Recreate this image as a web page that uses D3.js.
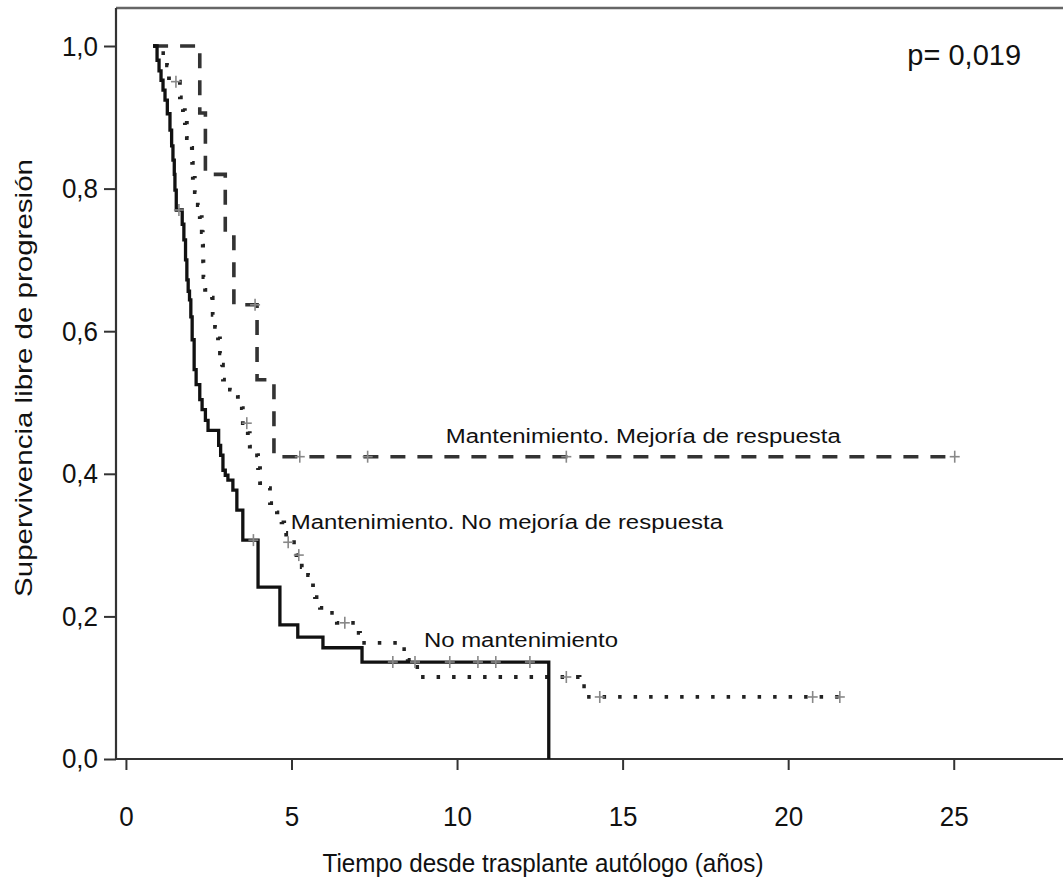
<!DOCTYPE html>
<html>
<head>
<meta charset="utf-8">
<script src="https://cdn.jsdelivr.net/npm/d3@7"></script>
<style>
  body { margin: 0; background: #fff; }
  text { font-family: "Liberation Sans", Arial, sans-serif; fill: #111; }
</style>
</head>
<body>
<svg id="chart" width="1063" height="884"></svg>
<script>
// Kaplan-Meier steps: drop times (years) and survival after each drop
var startTime = 0.82;

var noMantT = [0.94, 1.0, 1.06, 1.12, 1.18, 1.25, 1.33, 1.38, 1.42, 1.46, 1.48, 1.52, 1.7, 1.75, 1.8, 1.84, 1.88, 1.92, 1.96, 2.0, 2.06, 2.12, 2.23, 2.3, 2.4, 2.48, 2.8, 2.86, 2.93, 3.0, 3.08, 3.23, 3.35, 3.53, 3.99, 4.65, 5.19, 5.95, 7.13, 12.77];
var noMantS = [0.98, 0.965, 0.952, 0.938, 0.924, 0.905, 0.882, 0.86, 0.84, 0.82, 0.798, 0.77, 0.75, 0.728, 0.70, 0.672, 0.656, 0.644, 0.62, 0.588, 0.546, 0.525, 0.504, 0.49, 0.475, 0.461, 0.44, 0.426, 0.405, 0.398, 0.391, 0.377, 0.349, 0.307, 0.241, 0.188, 0.171, 0.156, 0.136, 0];
var noMantEnd = 12.77;
var noMantCensT = [1.6, 3.85, 8.06, 8.73, 9.78, 10.63, 11.17, 12.2];

var noMejT = [1.03, 1.24, 1.3, 1.63, 1.72, 1.78, 1.84, 1.99, 2.0, 2.02, 2.08, 2.17, 2.23, 2.29, 2.32, 2.33, 2.34, 2.39, 2.6, 2.62, 2.69, 2.78, 2.84, 2.9, 2.93, 3.14, 3.38, 3.5, 3.53, 3.68, 3.74, 3.96, 3.99, 4.05, 4.26, 4.35, 4.56, 4.7, 4.78, 4.84, 5.15, 5.31, 5.5, 5.65, 5.71, 5.86, 6.16, 6.37, 6.97, 7.07, 8.33, 8.51, 8.73, 8.88, 13.7, 13.92];
var noMejS = [0.99, 0.973, 0.95, 0.928, 0.91, 0.892, 0.871, 0.857, 0.836, 0.815, 0.795, 0.777, 0.76, 0.739, 0.72, 0.698, 0.676, 0.658, 0.647, 0.623, 0.606, 0.59, 0.569, 0.553, 0.532, 0.518, 0.508, 0.492, 0.471, 0.457, 0.438, 0.426, 0.408, 0.387, 0.38, 0.359, 0.346, 0.332, 0.317, 0.304, 0.286, 0.269, 0.258, 0.241, 0.227, 0.212, 0.205, 0.191, 0.177, 0.163, 0.154, 0.139, 0.129, 0.115, 0.102, 0.087];
var noMejEnd = 21.56;
var noMejCensT = [1.51, 3.65, 4.9, 5.22, 6.61, 13.3, 14.31, 20.74, 21.56];

var mejT = [2.23, 2.4, 3.0, 3.26, 3.96, 4.47];
var mejS = [0.906, 0.82, 0.732, 0.637, 0.532, 0.424];
var mejEnd = 25.03;
var mejCensT = [3.9, 5.25, 7.3, 13.3, 25.03];

var xTicks = [0, 5, 10, 15, 20, 25];
var yTicks = [0, 0.2, 0.4, 0.6, 0.8, 1.0];

var labelText = ["Mantenimiento. Mejoría de respuesta", "Mantenimiento. No mejoría de respuesta", "No mantenimiento"];
var labelT = [9.66, 4.98, 9.0];
var labelS = [0.443, 0.323, 0.157];
var pText = "p= 0,019";

var svg = d3.select("#chart");

var x = d3.scaleLinear().domain([-0.3, 28.3]).range([116, 1063]);
var y = d3.scaleLinear().domain([0, 1.0533]).range([759, 8]);

function steps(ts, ss, end) {
  var pts = [[startTime, 1]];
  ts.forEach(function(t, i) { pts.push([t, ss[i]]); });
  if (end > ts[ts.length - 1]) pts.push([end, ss[ss.length - 1]]);
  return pts;
}

// survival value at time t (for placing censor marks)
function survAt(ts, ss, t) {
  var s = 1;
  ts.forEach(function(tt, i) { if (tt <= t) s = ss[i]; });
  return s;
}

var line = d3.line()
  .x(function(d) { return x(d[0]); })
  .y(function(d) { return y(d[1]); })
  .curve(d3.curveStepAfter);

var series = [
  {t: noMejT, s: noMejS, end: noMejEnd, cens: noMejCensT, dash: "3.5,12", w: 3.8, color: "#222"},
  {t: mejT, s: mejS, end: mejEnd, cens: mejCensT, dash: "15,12", w: 3.6, color: "#333"},
  {t: noMantT, s: noMantS, end: noMantEnd, cens: noMantCensT, dash: null, w: 3.3, color: "#111"}
];

// frame
svg.append("line").attr("x1", 116).attr("x2", 1063).attr("y1", 8).attr("y2", 8)
  .style("stroke", "#666").style("stroke-width", 2.5);
svg.append("line").attr("x1", 116).attr("x2", 1063).attr("y1", y(0)).attr("y2", y(0))
  .style("stroke", "#333").style("stroke-width", 2.2);
svg.append("line").attr("x1", 116).attr("x2", 116).attr("y1", 8).attr("y2", y(0))
  .style("stroke", "#333").style("stroke-width", 2.2);

var gx = svg.append("g").attr("transform", "translate(0," + y(0) + ")")
  .call(d3.axisBottom(x).tickValues(xTicks).tickSize(11).tickFormat(d3.format("d")));
var gy = svg.append("g").attr("transform", "translate(116,0)")
  .call(d3.axisLeft(y).tickValues(yTicks).tickSize(12).tickPadding(6)
    .tickFormat(function(d) { return d3.format(".1f")(d).replace(".", ","); }));
[gx, gy].forEach(function(g) {
  g.select(".domain").remove();
  g.selectAll(".tick line").style("stroke", "#333").style("stroke-width", 2);
  g.selectAll(".tick text").style("font-size", "26px").style("font-family", "Liberation Sans, Arial, sans-serif").attr("fill", "#111");
});
// the source picture is slightly stretched vertically
gy.selectAll(".tick text").attr("transform", "scale(1,1.08)");
gx.selectAll(".tick text").attr("y", 0).attr("transform", "translate(0,47) scale(1,1.08)");

series.forEach(function(sr) {
  var path = svg.append("path")
    .datum(steps(sr.t, sr.s, sr.end))
    .attr("d", line)
    .style("fill", "none")
    .style("stroke", sr.color)
    .style("stroke-width", sr.w);
  if (sr.dash) path.style("stroke-dasharray", sr.dash);

  var marks = svg.append("g").selectAll("g").data(sr.cens).enter().append("g")
    .attr("transform", function(d) { return "translate(" + x(d) + "," + y(survAt(sr.t, sr.s, d)) + ")"; });
  marks.append("line").attr("x1", -5).attr("x2", 5).style("stroke", "#888").style("stroke-width", 1.6);
  marks.append("line").attr("y1", -6).attr("y2", 6).style("stroke", "#888").style("stroke-width", 1.6);
});

svg.append("g").selectAll("text").data(labelText).enter().append("text")
  .attr("transform", function(d, i) { return "translate(" + x(labelT[i]) + "," + y(labelS[i]) + ") scale(1.14,1)"; })
  .style("font-size", "21px")
  .text(function(d) { return d; });

svg.append("text")
  .attr("x", x(23.6)).attr("y", y(0.974))
  .style("font-size", "29px")
  .text(pText);

svg.append("text")
  .attr("transform", "translate(543,872) scale(1.01,1.05)")
  .attr("text-anchor", "middle")
  .style("font-size", "24px")
  .text("Tiempo desde trasplante autólogo (años)");

svg.append("text")
  .attr("transform", "translate(32,378) rotate(-90) scale(1.23,1)")
  .attr("text-anchor", "middle")
  .style("font-size", "24px")
  .text("Supervivencia libre de progresión");
</script>
</body>
</html>
